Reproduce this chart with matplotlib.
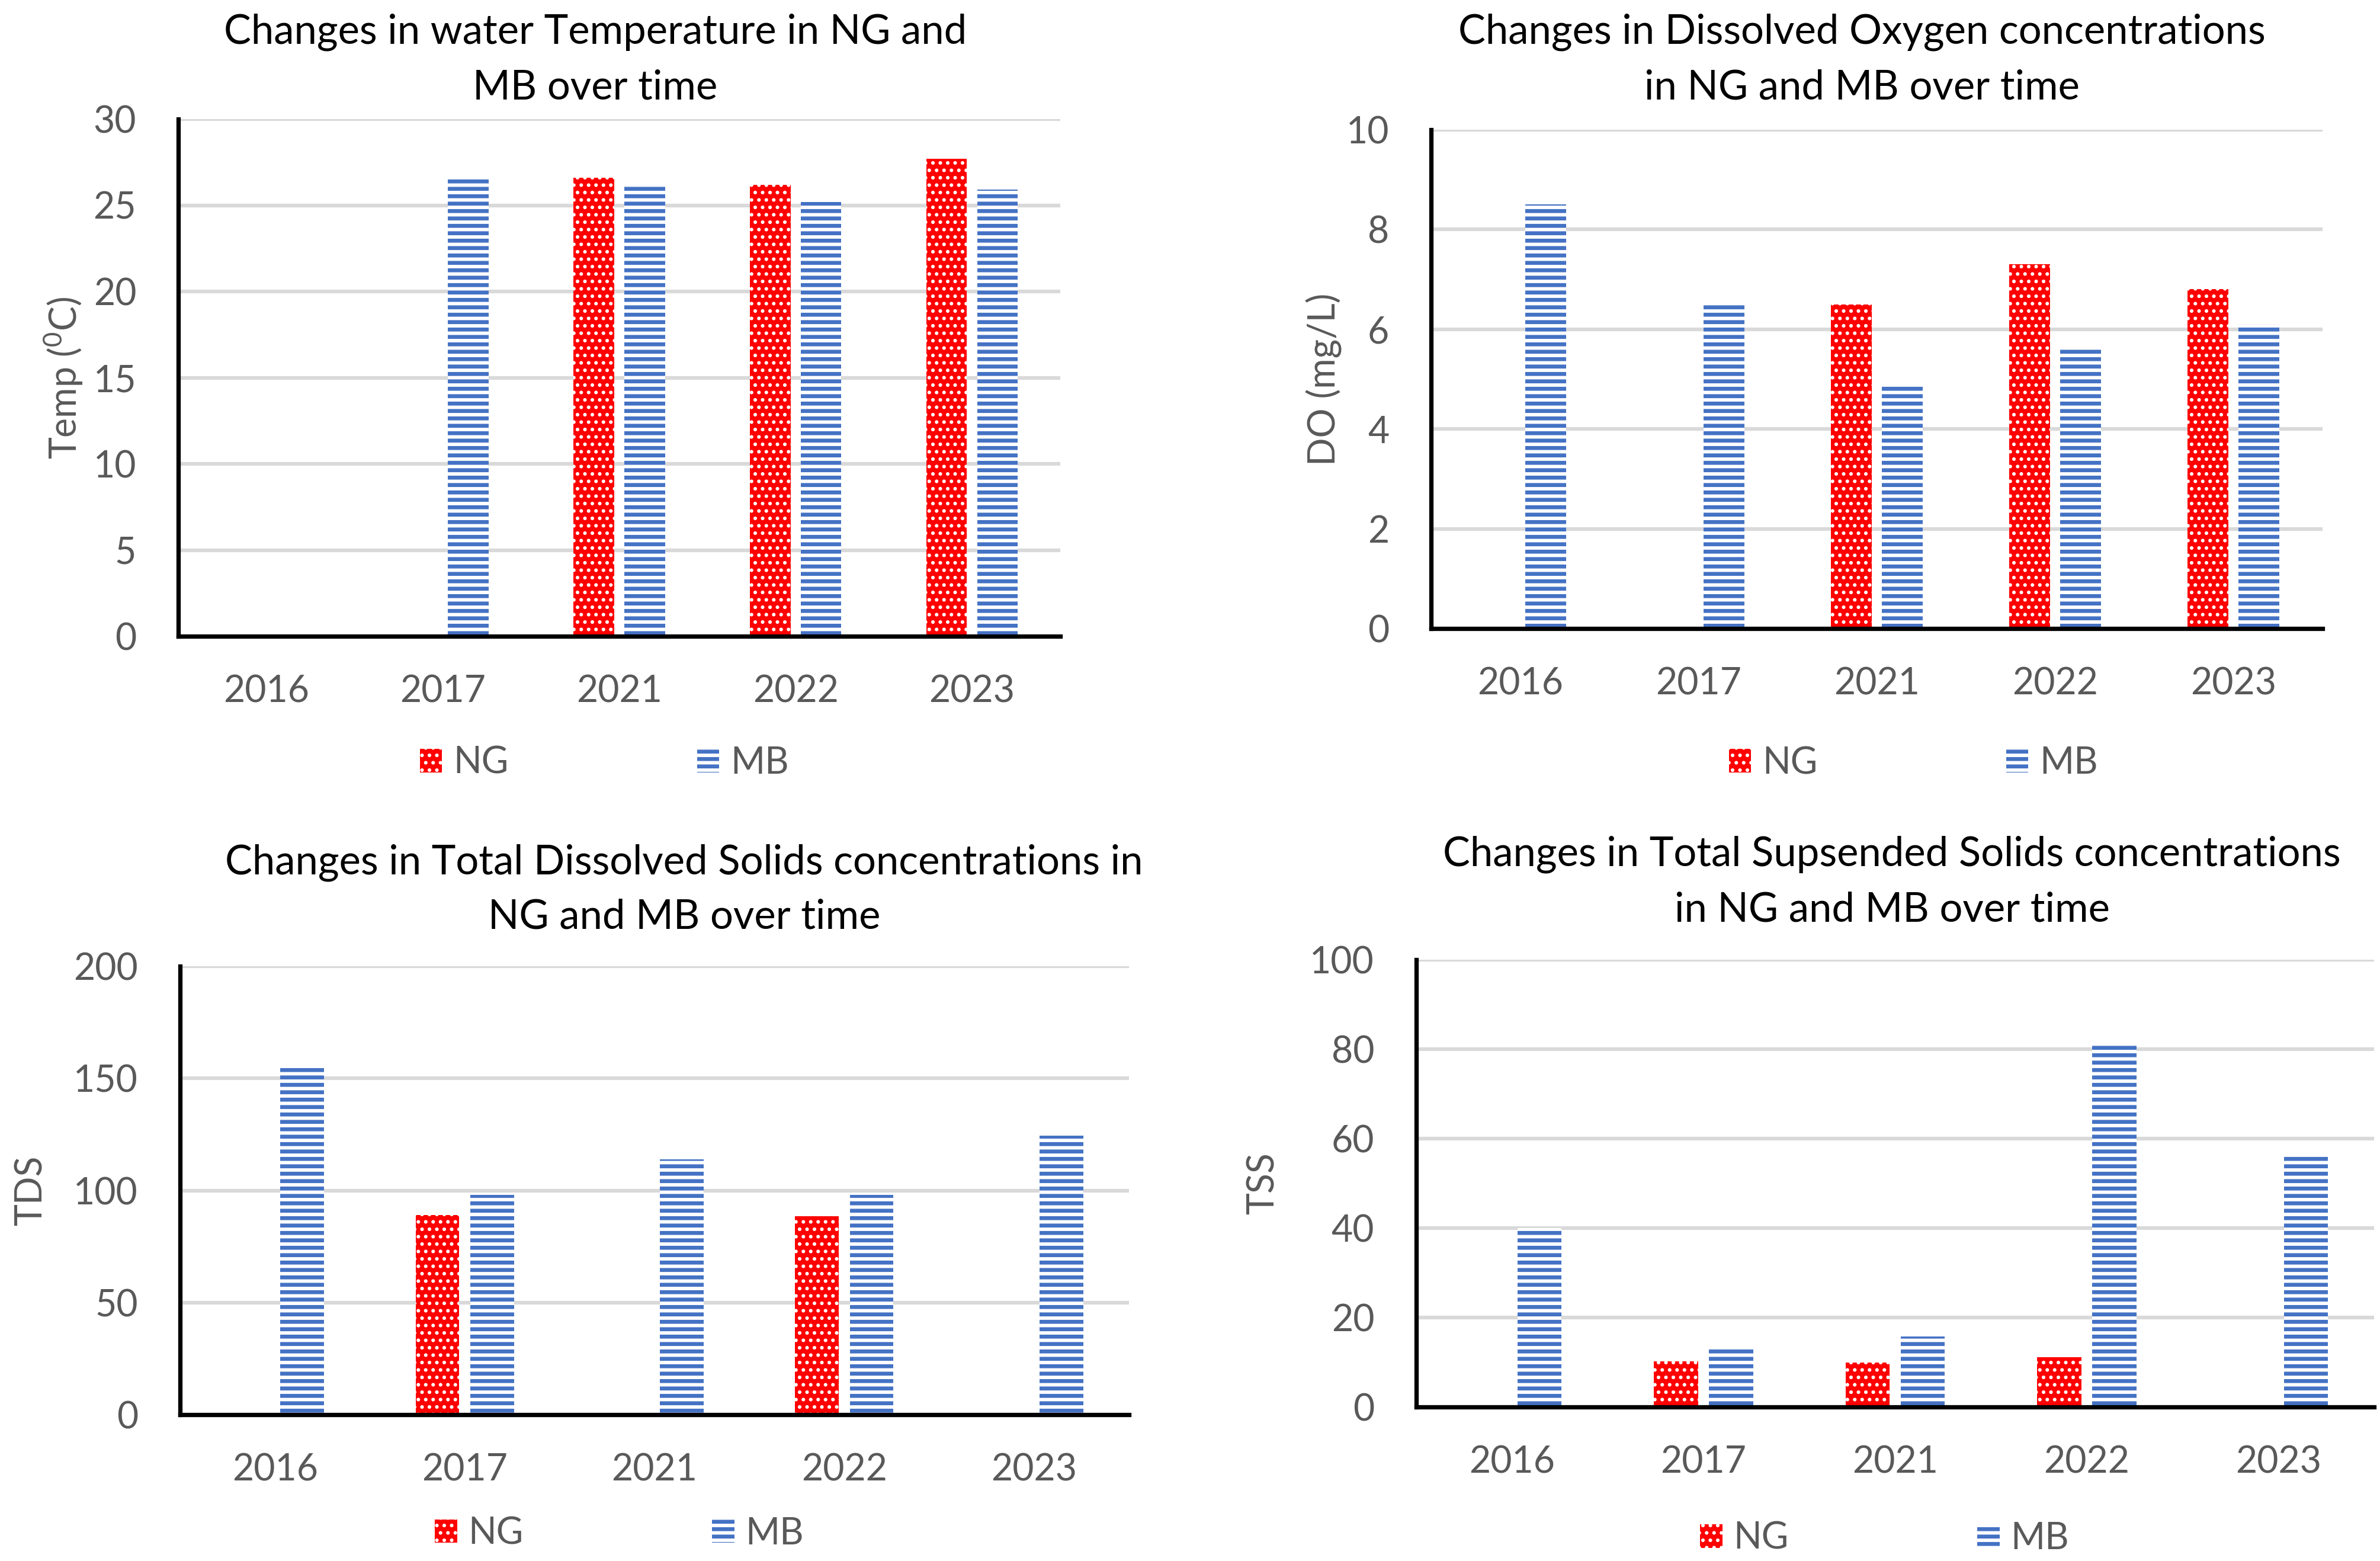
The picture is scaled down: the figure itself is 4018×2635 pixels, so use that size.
import matplotlib
matplotlib.use("Agg")
import matplotlib.pyplot as plt
import numpy as np

plt.rcParams['font.family'] = ['Lato', 'DejaVu Sans']

years = ['2016', '2017', '2021', '2022', '2023']

temp_ng = [0, 0, 26.6, 26.2, 27.7]
temp_mb = [0, 26.6, 26.2, 25.2, 25.9]

do_ng = [0, 0, 6.5, 7.3, 6.8]
do_mb = [8.5, 6.5, 4.9, 5.6, 6.1]

tds_ng = [0, 89, 0, 88.5, 0]
tds_mb = [154.5, 98, 114, 98, 124.5]

tss_ng = [0, 10.2, 9.9, 11.1, 0]
tss_mb = [40, 13, 15.7, 80.8, 56]

W, H = 4018, 2635
DPI = 150
RED = '#FF0000'
BLUE = '#4472C4'
GRAY = '#595959'
NG_HATCH_LW = 1.7
MB_HATCH_LW = 3.2

fig = plt.figure(figsize=(W / DPI, H / DPI), dpi=DPI)


def px_axes(left, top, right, bottom):
    return fig.add_axes([left / W, 1 - bottom / H, (right - left) / W, (bottom - top) / H])


def hatched_bars(ax, x, vals, lw, **kw):
    # hatch linewidth: per-artist when this matplotlib has it
    plt.rcParams['hatch.linewidth'] = lw
    bars = ax.bar(x, vals, 0.23, linewidth=0, zorder=3, **kw)
    for p in bars:
        if hasattr(p, 'set_hatch_linewidth'):
            p.set_hatch_linewidth(lw)
    return bars


def panel(ax, ng, mb, ymax, ystep, ylabel, ylab_x, leg_xy, title, tx, ty):
    x = np.arange(len(years))
    hatched_bars(ax, x - 0.144, ng, NG_HATCH_LW, color=RED, edgecolor='white',
                 hatch='..', label='NG')
    hatched_bars(ax, x + 0.144, mb, MB_HATCH_LW, color='white', edgecolor=BLUE,
                 hatch='--', label='MB')
    ax.set_xlim(-0.5, len(years) - 0.5)
    ax.set_ylim(0, ymax)
    ax.set_yticks(np.arange(0, ymax + ystep / 2, ystep))
    ax.set_xticks(x)
    ax.set_xticklabels(years)
    ax.yaxis.grid(True, color='#D9D9D9', linewidth=3.0, zorder=0)
    ax.set_axisbelow(True)
    for s in ['top', 'right']:
        ax.spines[s].set_visible(False)
    for s in ['left', 'bottom']:
        ax.spines[s].set_linewidth(3.5)
        ax.spines[s].set_color('black')
        ax.spines[s].set_zorder(4)
    ax.tick_params(axis='both', length=0, labelsize=30, labelcolor=GRAY)
    ax.tick_params(axis='x', pad=31)
    ax.tick_params(axis='y', pad=34)
    ax.set_ylabel(ylabel, fontsize=30, color=GRAY, va='center')
    ax.yaxis.set_label_coords(ylab_x, 0.5)
    leg = ax.legend(loc='center', bbox_to_anchor=leg_xy, ncol=2, frameon=False,
                    fontsize=30, labelcolor=GRAY, handlelength=0.6, handleheight=0.6,
                    handletextpad=0.3, columnspacing=5.1)
    for h, lw in zip(leg.get_patches(), [NG_HATCH_LW, MB_HATCH_LW]):
        if hasattr(h, 'set_hatch_linewidth'):
            h.set_hatch_linewidth(lw)
    fig.text(tx / W, 1 - ty[0] / H, title[0], ha='center', va='baseline', fontsize=33)
    fig.text(tx / W, 1 - ty[1] / H, title[1], ha='center', va='baseline', fontsize=33)


ax1 = px_axes(301, 201, 1790, 1074)
panel(ax1, temp_ng, temp_mb, 30, 5, r'Temp ($^{\mathregular{0}}$C)', -0.13, (0.483, -0.245),
      ['Changes in water Temperature in NG and', 'MB over time'], 1005, (74, 167))

ax2 = px_axes(2416, 219, 3921, 1061)
panel(ax2, do_ng, do_mb, 10, 2, 'DO (mg/L)', -0.12, (0.541, -0.27),
      ['Changes in Dissolved Oxygen concentrations', 'in NG and MB over time'], 3143, (74, 167))

ax3 = px_axes(304, 1631, 1906, 2388)
panel(ax3, tds_ng, tds_mb, 200, 50, 'TDS', -0.157, (0.463, -0.265),
      ['Changes in Total Dissolved Solids concentrations in', 'NG and MB over time'], 1155, (1475, 1568))

ax4 = px_axes(2391, 1620, 4008, 2375)
panel(ax4, tss_ng, tss_mb, 100, 20, 'TSS', -0.16, (0.489, -0.294),
      ['Changes in Total Supsended Solids concentrations', 'in NG and MB over time'], 3194, (1462, 1555))

fig.savefig('out.png', dpi=DPI)
